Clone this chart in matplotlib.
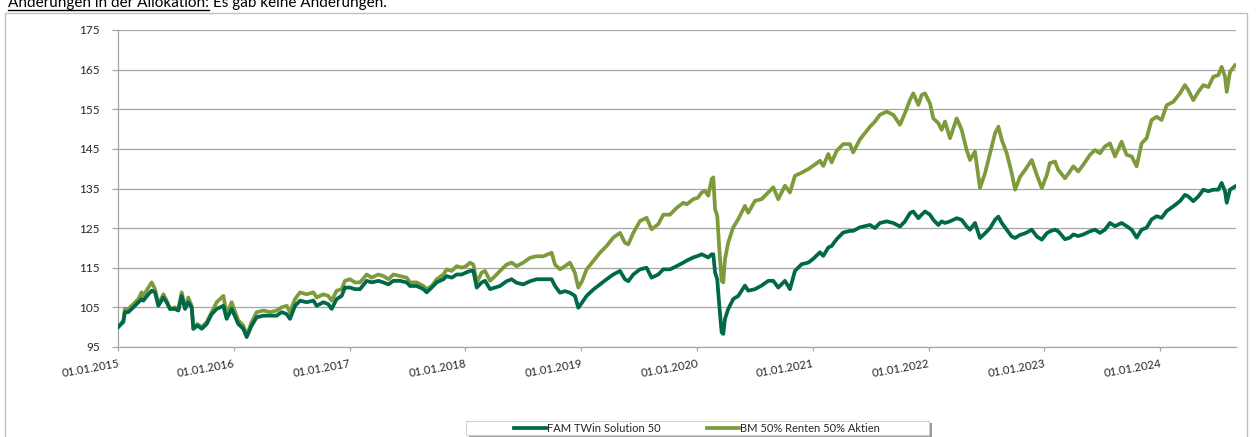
import matplotlib
matplotlib.use("Agg")
import matplotlib.pyplot as plt
from matplotlib.patches import Rectangle
from matplotlib.lines import Line2D

plt.rcParams['font.family'] = ['Lato', 'DejaVu Sans']

# time in decimal years, values indexed to 100 at 01.01.2015
t_years = [
    2015.000, 2015.046, 2015.060, 2015.089, 2015.132, 2015.176, 2015.204, 2015.219, 2015.262, 2015.291,
    2015.320, 2015.348, 2015.392, 2015.420, 2015.449, 2015.492, 2015.521, 2015.550, 2015.579, 2015.607,
    2015.636, 2015.651, 2015.685, 2015.723, 2015.766, 2015.809, 2015.852, 2015.910, 2015.938, 2015.982,
    2016.002, 2016.039, 2016.082, 2016.111, 2016.154, 2016.198, 2016.255, 2016.313, 2016.370, 2016.413,
    2016.457, 2016.485, 2016.529, 2016.572, 2016.629, 2016.687, 2016.716, 2016.773, 2016.816, 2016.845,
    2016.888, 2016.932, 2016.960, 2017.003, 2017.047, 2017.090, 2017.148, 2017.191, 2017.248, 2017.292,
    2017.335, 2017.378, 2017.435, 2017.493, 2017.522, 2017.579, 2017.637, 2017.666, 2017.709, 2017.752,
    2017.810, 2017.838, 2017.882, 2017.925, 2017.968, 2018.006, 2018.040, 2018.069, 2018.098, 2018.141,
    2018.170, 2018.213, 2018.256, 2018.299, 2018.356, 2018.399, 2018.443, 2018.500, 2018.558, 2018.615,
    2018.673, 2018.745, 2018.774, 2018.817, 2018.860, 2018.903, 2018.946, 2018.975, 2019.007, 2019.047,
    2019.105, 2019.162, 2019.220, 2019.277, 2019.335, 2019.378, 2019.407, 2019.450, 2019.508, 2019.565,
    2019.608, 2019.666, 2019.709, 2019.767, 2019.824, 2019.882, 2019.911, 2019.968, 2020.009, 2020.040,
    2020.069, 2020.098, 2020.127, 2020.141, 2020.156, 2020.175, 2020.193, 2020.213, 2020.227, 2020.242,
    2020.270, 2020.313, 2020.357, 2020.414, 2020.443, 2020.501, 2020.558, 2020.616, 2020.659, 2020.702,
    2020.760, 2020.803, 2020.846, 2020.904, 2020.961, 2021.002, 2021.062, 2021.091, 2021.134, 2021.163,
    2021.206, 2021.263, 2021.321, 2021.349, 2021.407, 2021.465, 2021.494, 2021.537, 2021.580, 2021.638,
    2021.695, 2021.753, 2021.796, 2021.840, 2021.868, 2021.912, 2021.940, 2021.969, 2022.012, 2022.041,
    2022.084, 2022.113, 2022.142, 2022.185, 2022.243, 2022.286, 2022.329, 2022.358, 2022.401, 2022.444,
    2022.488, 2022.531, 2022.574, 2022.603, 2022.632, 2022.675, 2022.718, 2022.747, 2022.791, 2022.834,
    2022.891, 2022.935, 2022.978, 2023.021, 2023.048, 2023.092, 2023.120, 2023.178, 2023.221, 2023.250,
    2023.293, 2023.336, 2023.394, 2023.437, 2023.480, 2023.523, 2023.566, 2023.610, 2023.667, 2023.710,
    2023.754, 2023.797, 2023.840, 2023.883, 2023.926, 2023.970, 2024.013, 2024.056, 2024.114, 2024.171,
    2024.214, 2024.243, 2024.286, 2024.330, 2024.373, 2024.416, 2024.459, 2024.502, 2024.531, 2024.560,
    2024.575, 2024.603, 2024.646,
]

fam_twin = [
    100.0, 101.3, 103.8, 103.8, 105.0, 106.3, 107.1, 106.7, 108.3, 109.2,
    108.8, 105.4, 107.5, 106.3, 104.6, 104.6, 104.2, 107.9, 104.6, 106.3,
    105.0, 99.6, 100.4, 99.6, 100.8, 103.3, 104.6, 105.4, 102.1, 104.6,
    103.3, 100.8, 99.6, 97.5, 100.4, 102.5, 102.9, 102.9, 102.9, 103.8,
    103.3, 102.1, 105.4, 106.7, 106.3, 106.7, 105.4, 106.3, 105.8, 104.6,
    107.1, 107.9, 110.0, 110.0, 109.6, 109.6, 111.7, 111.3, 111.7, 111.3,
    110.8, 111.7, 111.7, 111.3, 110.4, 110.4, 109.6, 108.8, 110.0, 111.3,
    112.1, 112.9, 112.5, 113.3, 113.3, 113.8, 114.2, 114.2, 110.0, 111.3,
    111.7, 109.6, 110.0, 110.4, 111.6, 112.1, 111.2, 110.8, 111.6, 112.1,
    112.1, 112.1, 110.4, 108.7, 109.1, 108.7, 107.9, 104.9, 106.2, 107.9,
    109.5, 110.8, 112.1, 113.3, 114.2, 112.1, 111.6, 113.3, 114.6, 115.0,
    112.5, 113.3, 114.6, 114.6, 115.4, 116.3, 116.8, 117.6, 118.0, 118.4,
    118.0, 117.6, 118.4, 118.4, 113.8, 112.1, 105.4, 98.7, 98.3, 102.1,
    104.6, 107.1, 107.9, 110.5, 109.2, 109.6, 110.5, 111.7, 111.7, 110.0,
    111.7, 109.6, 114.2, 115.9, 116.3, 117.2, 118.9, 118.0, 120.1, 120.5,
    122.2, 123.9, 124.3, 124.3, 125.2, 125.6, 125.8, 125.0, 126.3, 126.7,
    126.3, 125.4, 126.7, 128.8, 129.2, 127.5, 128.4, 129.2, 128.4, 127.1,
    125.8, 126.7, 126.3, 126.7, 127.5, 127.1, 125.4, 124.6, 126.3, 122.5,
    123.7, 125.0, 127.1, 127.9, 126.3, 124.6, 122.9, 122.5, 123.3, 123.7,
    124.6, 122.9, 122.1, 123.7, 124.2, 124.6, 124.2, 122.2, 122.6, 123.4,
    123.0, 123.4, 124.2, 124.6, 123.8, 124.6, 126.3, 125.5, 126.3, 125.5,
    124.6, 122.6, 124.6, 125.1, 127.2, 128.0, 127.6, 129.3, 130.5, 131.8,
    133.4, 133.0, 131.8, 133.0, 134.7, 134.3, 134.7, 134.7, 136.4, 134.3,
    131.4, 134.7, 135.5,
]

bm_50_50 = [
    100.0, 101.7, 104.6, 104.6, 105.8, 107.1, 108.8, 107.9, 110.0, 111.3,
    109.6, 105.8, 108.3, 106.7, 104.6, 105.0, 104.6, 108.8, 105.0, 107.5,
    105.4, 99.6, 100.8, 100.0, 101.3, 103.8, 106.3, 107.9, 103.3, 106.3,
    104.6, 101.7, 100.4, 97.9, 101.3, 103.8, 104.2, 103.8, 104.2, 105.0,
    105.4, 103.8, 107.1, 108.8, 108.3, 108.8, 107.5, 108.3, 107.9, 106.7,
    109.2, 109.6, 111.7, 112.1, 111.3, 111.3, 113.3, 112.5, 113.3, 112.9,
    112.1, 113.3, 112.9, 112.5, 111.3, 111.3, 110.4, 109.6, 110.4, 112.1,
    113.3, 114.6, 114.2, 115.4, 115.0, 115.4, 116.3, 115.8, 111.3, 113.8,
    114.2, 111.7, 112.9, 114.2, 115.8, 116.3, 115.4, 116.3, 117.5, 117.9,
    117.9, 118.8, 115.8, 114.6, 115.4, 116.3, 113.7, 110.0, 111.6, 114.6,
    116.7, 118.8, 120.5, 122.6, 123.8, 121.3, 120.9, 123.8, 126.8, 127.6,
    124.7, 126.0, 128.4, 128.4, 130.1, 131.4, 131.0, 132.3, 132.7, 134.0,
    134.4, 133.2, 137.4, 137.8, 129.8, 128.1, 119.7, 111.7, 111.3, 117.2,
    121.4, 125.2, 127.3, 130.6, 128.9, 131.9, 132.3, 134.0, 135.3, 132.3,
    135.7, 134.0, 138.2, 139.0, 139.9, 140.7, 142.0, 140.7, 143.7, 141.6,
    144.5, 146.2, 146.2, 144.1, 147.4, 149.5, 150.6, 151.9, 153.6, 154.4,
    153.6, 151.1, 154.0, 157.4, 159.0, 156.1, 158.6, 159.0, 156.5, 152.7,
    151.5, 149.8, 151.9, 147.7, 152.7, 149.8, 144.7, 142.2, 144.3, 135.1,
    138.9, 143.9, 148.9, 150.6, 147.3, 143.9, 138.9, 134.7, 138.0, 139.7,
    142.2, 138.4, 135.1, 138.4, 141.4, 141.8, 139.7, 137.6, 139.3, 140.6,
    139.3, 141.0, 143.5, 144.7, 143.9, 145.6, 146.4, 143.1, 146.8, 143.5,
    143.1, 140.6, 146.4, 147.7, 152.3, 153.1, 152.3, 156.0, 156.9, 159.0,
    161.1, 159.8, 157.3, 159.4, 161.1, 160.6, 163.2, 163.6, 165.7, 163.2,
    159.4, 164.4, 166.1,
]

tick_years = list(range(2015, 2025))
tick_labels = ["01.01.{}".format(y) for y in tick_years]
y_ticks = [95, 105, 115, 125, 135, 145, 155, 165, 175]

dark_green = '#00694A'
olive = '#7E9B3C'
grid_grey = '#A6A6A6'
text_col = '#262626'

W, H = 1257, 437
fig = plt.figure(figsize=(W / 100, H / 100), dpi=100)

# outer chart frame (bottom runs off the image)
fig.patches.append(Rectangle((5 / W, -0.02), (1247 - 5) / W, (H - 13) / H + 0.02,
                             transform=fig.transFigure, fill=False,
                             edgecolor='#BFBFBF', lw=1.0))

# heading, cut at the top of the picture as in the original page
head1 = fig.text(8 / W, 1 - 7 / H, "Änderungen in der Allokation:", fontsize=11,
                 va='baseline', ha='left', color='black')
fig.canvas.draw()
bb = head1.get_window_extent()
fig.text(bb.x1 / W + 4 / W, 1 - 7 / H, "Es gab keine Änderungen.", fontsize=11,
         va='baseline', ha='left', color='black')
fig.lines.append(Line2D([bb.x0 / W, bb.x1 / W], [1 - 10 / H, 1 - 10 / H],
                        transform=fig.transFigure, color='black', lw=1.0))

ax = fig.add_axes([118 / W, 1 - 347 / H, (1236 - 118) / W, (347 - 30) / H])

ax.plot(t_years, bm_50_50, color=olive, lw=2.7, label="BM 50% Renten 50% Aktien",
        solid_joinstyle='round', zorder=3)
ax.plot(t_years, fam_twin, color=dark_green, lw=2.7, label="FAM TWin Solution 50",
        solid_joinstyle='round', zorder=4)

ax.set_xlim(2015, 2024.655)
ax.set_ylim(95, 175)
ax.set_yticks(y_ticks)
ax.set_xticks(tick_years)
ax.set_xticklabels(tick_labels, rotation=10, ha='right', va='top',
                   rotation_mode='anchor', fontsize=8.2, color=text_col)
ax.tick_params(axis='y', labelsize=8.5, labelcolor=text_col, length=4, width=0.9,
               color=grid_grey, pad=9)
ax.tick_params(axis='x', length=3, width=0.9, color=grid_grey, pad=5)
ax.yaxis.grid(True, color=grid_grey, lw=0.9)
ax.set_axisbelow(True)
for s in ['top', 'right']:
    ax.spines[s].set_visible(False)
for s in ['left', 'bottom']:
    ax.spines[s].set_color(grid_grey)
    ax.spines[s].set_linewidth(0.9)

# legend box with shadow, like the Excel original
fig.patches.append(Rectangle((469 / W, 1 - 438 / H), (929 - 466) / W, 15 / H,
                             transform=fig.transFigure, facecolor='#9A9A9A',
                             edgecolor='none', zorder=1))
fig.patches.append(Rectangle((466 / W, 1 - 435 / H), (929 - 466) / W, 14 / H,
                             transform=fig.transFigure, facecolor='white',
                             edgecolor='#D0D0D0', lw=0.8, zorder=2))
h_bm, h_fam = ax.get_lines()
fig.legend([h_fam, h_bm], ["FAM TWin Solution 50", "BM 50% Renten 50% Aktien"],
           loc='center', bbox_to_anchor=(697 / W, 1 - 428 / H), ncol=2,
           frameon=False, fontsize=8, handlelength=2.9, handletextpad=0.05,
           columnspacing=4.2, borderpad=0.0, labelcolor=text_col)

fig.savefig("out.png", dpi=100)
